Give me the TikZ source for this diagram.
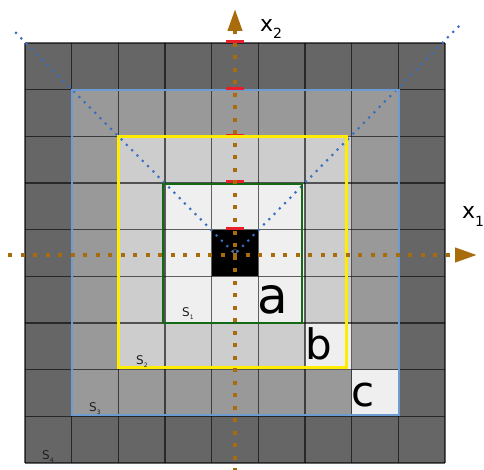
\documentclass[tikz,border=0pt]{standalone}
\usepackage{fontspec}
\setmainfont{DejaVu Sans}
\usetikzlibrary{arrows.meta}
\definecolor{cellO}{RGB}{0,0,0}
\definecolor{cellA}{RGB}{238,239,238}
\definecolor{cellB}{RGB}{204,205,204}
\definecolor{cellC}{RGB}{152,153,152}
\definecolor{cellD}{RGB}{101,102,101}
\definecolor{axiscol}{RGB}{168,108,12}
\definecolor{diagcol}{RGB}{58,110,192}
\definecolor{bluecol}{RGB}{110,155,210}
\definecolor{yellowcol}{RGB}{255,236,0}
\definecolor{greencol}{RGB}{20,105,20}
\definecolor{redcol}{RGB}{232,30,40}
\tikzset{
  gridline/.style={black, opacity=0.6, line width=1.2pt},
  diagline/.style={diagcol, line width=3pt, line cap=round, dash pattern=on 0pt off 7.5pt},
  axisline/.style={axiscol, line width=4pt, dash pattern=on 4pt off 8.5pt, -{Triangle[length=22pt,width=14pt]}},
  redtick/.style={redcol, line width=2.5pt},
  bluebox/.style={bluecol, line width=2pt},
  yellowbox/.style={yellowcol, line width=3pt},
  greenbox/.style={greencol, line width=2.5pt},
  biglabel/.style={inner sep=0pt, anchor=base west, text=black},
  slabel/.style={inner sep=0pt, anchor=base west, text=black!88, font=\fontsize{12}{12}\selectfont},
  axlabel/.style={inner sep=0pt, anchor=base west, text=black, font=\fontsize{22}{22}\selectfont}
}
\newcommand{\subsm}[1]{\raisebox{-3pt}{\fontsize{6}{6}\selectfont #1}}
\newcommand{\subax}[1]{\raisebox{-7pt}{\fontsize{14}{14}\selectfont #1}}
\begin{document}
\begin{tikzpicture}[x=1pt,y=-1pt]
\useasboundingbox (0,0) rectangle (484,470);
\def\cs{46.667}
% cells
\foreach \i in {0,...,8}{\foreach \j in {0,...,8}{
  \pgfmathtruncatemacro\r{max(abs(\i-4),abs(\j-4))}
  \ifcase\r \def\cc{cellO}\or \def\cc{cellA}\or \def\cc{cellB}\or \def\cc{cellC}\else \def\cc{cellD}\fi
  \fill[\cc] ({25+\i*\cs},{43+\j*\cs}) rectangle ++(\cs,\cs);
}}
\foreach \i in {5,6,7}{
  \fill[cellA] ({25+\i*\cs},{43+\i*\cs}) rectangle ++(\cs,\cs);
}
% grid lines
\foreach \k in {0,...,9}{
  \draw[gridline] ({25+\k*\cs},43) -- ({25+\k*\cs},463);
  \draw[gridline] (25,{43+\k*\cs}) -- (445,{43+\k*\cs});
}
% diagonals
\coordinate (O) at (235,254);
\coordinate (dl) at (16,33);
\coordinate (dr) at (461,24);
\draw[diagline] (dl) -- (O) -- (dr);
% boxes
\draw[bluebox] (72,90) rectangle (399,415);
\draw[greenbox] (163,184) rectangle (302,323);
% red ticks
\foreach \y in {43,90,137,183,230}{
  \draw[redtick] (226,{\y-1.5}) -- (244,{\y-1.5});
}
\draw[yellowbox] (118,137) rectangle (346,367);
% axes
\coordinate (hs) at (8,255);
\coordinate (he) at (477,255);
\coordinate (vs) at (235,472);
\coordinate (ve) at (235,9);
\draw[axisline] (hs) -- (he);
\draw[axisline] (vs) -- (ve);
% labels
\node[inner sep=0pt, text=black!55, font=\fontsize{7}{7}\selectfont] (zero) at (235,252) {0};
\node[biglabel, font=\fontsize{50}{50}\selectfont] (la) at (257,313) {a};
\node[biglabel, font=\fontsize{42}{42}\selectfont] (lb) at (305,359) {b};
\node[biglabel, font=\fontsize{42}{42}\selectfont] (lc) at (351,406) {c};
\node[axlabel] (xtwo) at (260,32) {x\subax{2}};
\node[axlabel] (xone) at (462,219) {x\subax{1}};
\node[slabel] (s1) at (182,316) {S\subsm{1}};
\node[slabel] (s2) at (136,364) {S\subsm{2}};
\node[slabel] (s3) at (89,411) {S\subsm{3}};
\node[slabel] (s4) at (42,459) {S\subsm{4}};
\end{tikzpicture}
\end{document}
